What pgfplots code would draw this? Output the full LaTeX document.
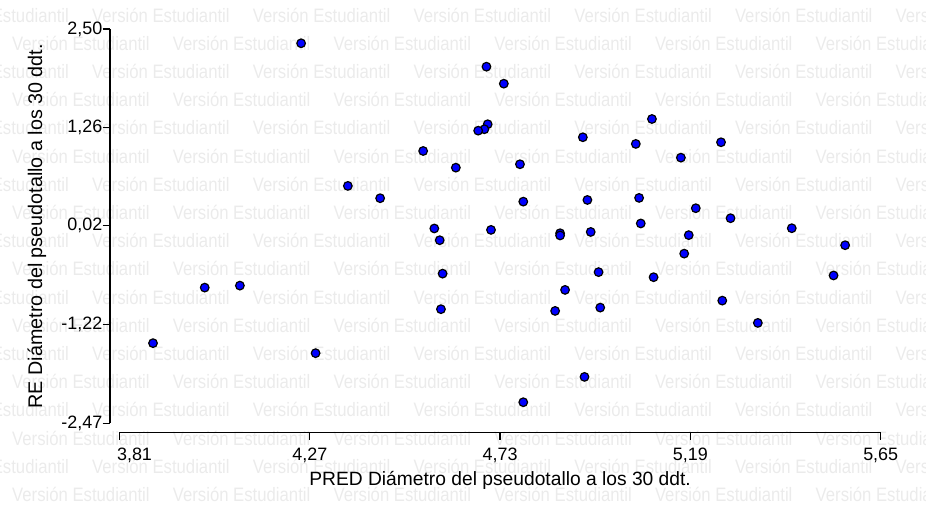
\documentclass[border=0pt]{standalone}
\usepackage{pgfplots}
\pgfplotsset{compat=1.18}
\usepackage{fontspec}
\setmainfont{Liberation Sans}
\newfontfamily\wmfont{Liberation Sans}
\definecolor{wm}{RGB}{235,235,235}
\definecolor{dotblue}{RGB}{0,0,255}

\pgfplotstableread{
x y
4.249 2.320
4.697 2.025
4.739 1.811
5.097 1.366
4.700 1.300
4.692 1.237
4.677 1.219
4.930 1.136
4.544 0.963
5.058 1.052
5.264 1.073
4.623 0.753
4.778 0.796
5.167 0.879
4.362 0.523
4.440 0.368
4.786 0.325
4.941 0.346
5.066 0.372
5.203 0.242
5.287 0.116
5.435 -0.010
4.571 -0.013
4.584 -0.161
4.708 -0.031
4.875 -0.073
4.875 -0.101
4.949 -0.057
5.070 0.050
5.186 -0.097
5.175 -0.330
5.564 -0.224
4.591 -0.582
4.968 -0.563
5.101 -0.627
5.536 -0.605
4.887 -0.787
4.587 -1.030
4.863 -1.052
4.972 -1.010
5.267 -0.922
5.353 -1.203
4.934 -1.883
4.786 -2.202
4.016 -0.758
4.101 -0.733
3.891 -1.458
4.284 -1.584
}\datatable

\begin{document}
\begin{tikzpicture}[x=1bp,y=1bp]
\useasboundingbox (0,0) rectangle (926,510);
\begin{scope}
\clip (0,0) rectangle (926,510);
\foreach \k in {0,...,17} {
  \pgfmathsetmacro\yy{510-15-28.2*\k}
  \pgfmathsetmacro\xo{ifthenelse(mod(\k,2)==0,-68.7,12)}
  \foreach \j in {0,...,6} {
    \node[anchor=west, inner sep=0pt, text=wm, font={\wmfont\fontsize{19.5}{19.5}\selectfont}] at ({\xo+160.7*\j},\yy) {\scalebox{0.86}[1]{Versión Estudiantil}};
  }
}
\end{scope}

% x axis (offset below data area)
\begin{axis}[
  at={(119.5bp,77.7bp)}, anchor=south west,
  scale only axis, width=761.2bp, height=10bp,
  xmin=3.81, xmax=5.65, ymin=0, ymax=1,
  axis x line*=bottom, axis y line=none,
  xtick={4.27,4.73,5.19,5.65},
  extra x ticks={3.81},
  extra x tick style={xticklabel style={xshift=15bp}},
  tick align=outside, major tick length=7.5bp,
  every tick/.style={black, line width=1.3bp},
  x axis line style={-, line width=1.3bp, black},
  xticklabel style={font=\fontsize{18}{18}\selectfont, anchor=north, inner sep=0pt, yshift=-8bp},
  /pgf/number format/.cd, use comma, fixed, fixed zerofill, precision=2, assume math mode=true,
  /pgfplots/.cd,
  xlabel={PRED Diámetro del pseudotallo a los 30 ddt.},
  every axis x label/.style={at={(rel axis cs:0.5,0)}, yshift=-48bp, anchor=center, font=\fontsize{19.3}{19.3}\selectfont},
]
\end{axis}

% y axis (offset left of data area)
\begin{axis}[
  at={(110bp,86.5bp)}, anchor=south west,
  scale only axis, width=10bp, height=394.5bp,
  xmin=0, xmax=1, ymin=-2.47, ymax=2.50,
  axis y line*=left, axis x line=none,
  ytick={-2.47,-1.22,0.02,1.26,2.50},
  tick align=outside, major tick length=7.5bp,
  every tick/.style={black, line width=1.3bp},
  y axis line style={-, line width=1.3bp, black},
  yticklabel style={font=\fontsize{18}{18}\selectfont, anchor=east, inner sep=0pt, xshift=0bp},
  /pgf/number format/.cd, use comma, fixed, fixed zerofill, precision=2, assume math mode=true,
  /pgfplots/.cd,
  ylabel={RE Diámetro del pseudotallo a los 30 ddt.},
  every axis y label/.style={at={(rel axis cs:-7.3,0.5)}, rotate=90, anchor=center, font=\fontsize{19.8}{19.8}\selectfont},
]
\end{axis}

% data
\begin{axis}[
  at={(119.5bp,86.5bp)}, anchor=south west,
  scale only axis, width=761.2bp, height=394.5bp,
  xmin=3.81, xmax=5.65, ymin=-2.47, ymax=2.50,
  hide axis, clip=false,
]
\addplot[only marks, mark=*, mark size=4.3bp, mark options={fill=dotblue, draw=black, line width=1.2bp}] table[x=x,y=y] {\datatable};
\end{axis}
\end{tikzpicture}
\end{document}
